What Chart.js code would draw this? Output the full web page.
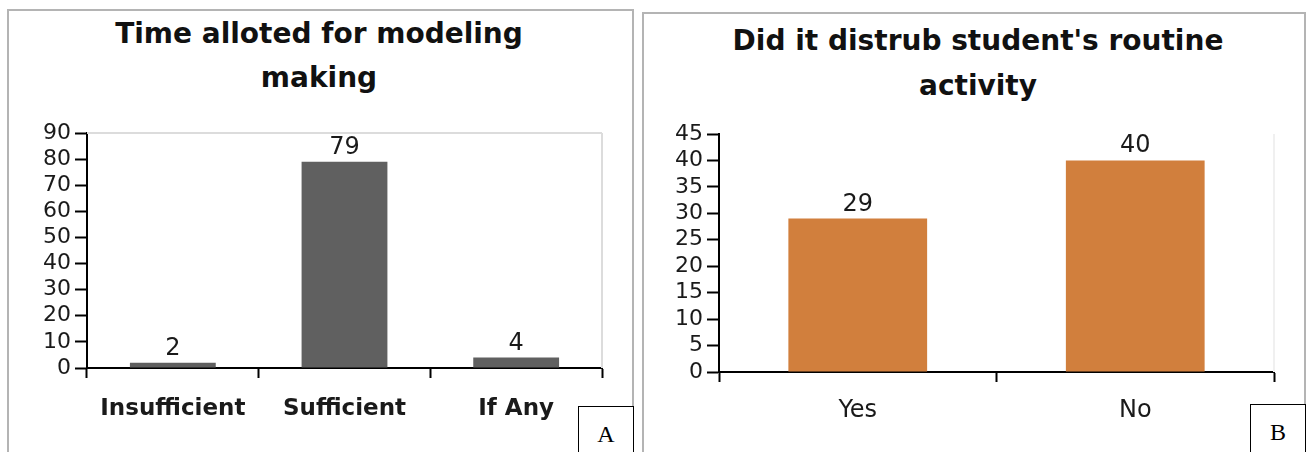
<!DOCTYPE html>
<html>
<head>
<meta charset="utf-8">
<script src="https://cdn.jsdelivr.net/npm/chart.js@4.4.1/dist/chart.umd.min.js"></script>
<style>
    body { margin: 0; background: #fff; width: 1307px; height: 452px; overflow: hidden; position: relative; }
    .panel { position: absolute; border: 2px solid #b4b4b4; }
    #panelA { left: 7px; top: 9px; width: 623px; height: 470px; }
    #panelB { left: 642px; top: 12px; width: 660px; height: 470px; }
    canvas { position: absolute; }
    #chartA { left: 10px; top: 12px; }
    #chartB { left: 645px; top: 15px; }
    .title { position: absolute; width: 600px; text-align: center; color: #111;
             font-family: 'DejaVu Sans', sans-serif; font-weight: bold; font-size: 28px; }
    #titleA { left: 19px; top: 12px; line-height: 44px; }
    #titleB { left: 678px; top: 18px; line-height: 45px; }
    .tag { position: absolute; width: 54px; height: 60px; border: 1px solid #000; background: #fff;
           font-family: 'Liberation Serif', serif; font-size: 24px; text-align: center; line-height: 54px; color: #000; }
    #tagA { left: 578px; top: 406px; }
    #tagB { left: 1250px; top: 404px; }
</style>
</head>
<body>
<div class="panel" id="panelA"></div>
<div class="panel" id="panelB"></div>
<div class="title" id="titleA"></div>
<div class="title" id="titleB"></div>
<canvas id="chartA" width="622" height="440"></canvas>
<canvas id="chartB" width="658" height="437"></canvas>
<div class="tag" id="tagA">A</div>
<div class="tag" id="tagB">B</div>
<script>
// chart A: time alloted
const timeTitle = ['Time alloted for modeling', 'making'];
const timeLabels = ['Insufficient', 'Sufficient', 'If Any'];
const timeValues = [2, 79, 4];
const timeMax = 90;
const timeStep = 10;

// chart B: routine disturbed
const routineTitle = ["Did it distrub student's routine", 'activity'];
const routineLabels = ['Yes', 'No'];
const routineValues = [29, 40];
const routineMax = 45;
const routineStep = 5;

Chart.defaults.font.family = "'DejaVu Sans', sans-serif";
Chart.defaults.color = '#1a1a1a';

// titles sit outside the canvas so they can be centred on the whole panel
function setTitle(id, lines) {
    const el = document.getElementById(id);
    lines.forEach((t, i) => {
        if (i > 0) el.appendChild(document.createElement('br'));
        el.appendChild(document.createTextNode(t));
    });
}
setTitle('titleA', timeTitle);
setTitle('titleB', routineTitle);

// numbers above the bars
const valueLabels = {
    id: 'valueLabels',
    afterDatasetsDraw(chart, args, opts) {
        const ctx = chart.ctx;
        const meta = chart.getDatasetMeta(0);
        ctx.save();
        ctx.font = opts.font;
        ctx.fillStyle = opts.color;
        ctx.textAlign = 'center';
        ctx.textBaseline = 'alphabetic';
        meta.data.forEach((bar, i) => {
            ctx.fillText(String(chart.data.datasets[0].data[i]), bar.x, bar.y - opts.gap);
        });
        ctx.restore();
    }
};

// faint plot-area edges
const plotFrame = {
    id: 'plotFrame',
    beforeDatasetsDraw(chart, args, opts) {
        const ctx = chart.ctx;
        const a = chart.chartArea;
        ctx.save();
        ctx.strokeStyle = opts.color;
        ctx.lineWidth = 2;
        ctx.beginPath();
        if (opts.top) {
            ctx.moveTo(a.left, a.top);
            ctx.lineTo(a.right, a.top);
        }
        ctx.moveTo(a.right, a.top);
        ctx.lineTo(a.right, a.bottom);
        ctx.stroke();
        ctx.restore();
    }
};

function makeChart(id, cfg) {
    return new Chart(document.getElementById(id), {
        type: 'bar',
        data: {
            labels: cfg.labels,
            datasets: [{
                data: cfg.values,
                backgroundColor: cfg.color,
                borderWidth: 0,
                barPercentage: 0.5,
                categoryPercentage: 1
            }]
        },
        options: {
            responsive: false,
            animation: false,
            layout: { padding: { left: 0, right: cfg.padRight, top: cfg.padTop, bottom: 0 } },
            plugins: {
                legend: { display: false },
                tooltip: { enabled: false },
                title: { display: false },
                valueLabels: { font: "24px 'DejaVu Sans'", color: '#1a1a1a', gap: 8 },
                plotFrame: { color: cfg.frameColor, top: cfg.frameTop }
            },
            scales: {
                x: {
                    grid: { offset: true, drawOnChartArea: false, tickLength: 10, tickColor: '#000', tickWidth: 2 },
                    border: { color: '#000', width: 2 },
                    ticks: { font: { size: cfg.xSize, weight: cfg.xWeight }, color: '#1a1a1a', padding: cfg.xPad },
                    afterFit: s => { s.height = cfg.xHeight; }
                },
                y: {
                    min: 0,
                    max: cfg.max,
                    grid: { drawOnChartArea: false, tickLength: 12, tickColor: '#000', tickWidth: 2 },
                    border: { color: '#000', width: 2 },
                    ticks: { stepSize: cfg.step, autoSkip: false, font: { size: 22 }, color: '#1a1a1a', padding: 4 },
                    afterFit: s => { s.width = cfg.yWidth; }
                }
            }
        },
        plugins: [plotFrame, valueLabels]
    });
}

makeChart('chartA', {
    labels: timeLabels, values: timeValues, color: '#606060',
    max: timeMax, step: timeStep,
    xSize: 23, xWeight: 'bold', xPad: 17, xHeight: 84,
    yWidth: 77, padRight: 30, padTop: 121,
    frameColor: '#dcdcdc', frameTop: true
});

makeChart('chartB', {
    labels: routineLabels, values: routineValues, color: '#d17f3d',
    max: routineMax, step: routineStep,
    xSize: 24, xWeight: 'normal', xPad: 14, xHeight: 80,
    yWidth: 74, padRight: 29, padTop: 119,
    frameColor: '#f0f0f0', frameTop: false
});
</script>
</body>
</html>
